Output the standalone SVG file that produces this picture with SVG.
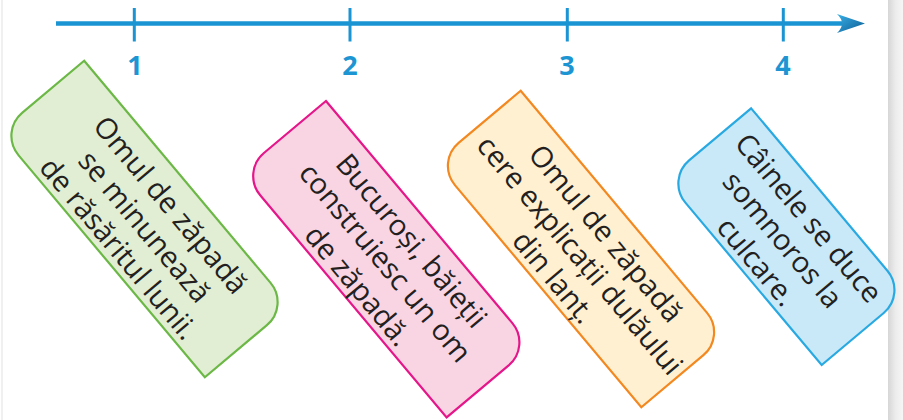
<svg xmlns="http://www.w3.org/2000/svg" width="903" height="420" viewBox="0 0 903 420">
<defs>
<linearGradient id="edge" x1="0" y1="0" x2="1" y2="0">
<stop offset="0" stop-color="#d6d6d6"/>
<stop offset="0.5" stop-color="#ececec"/>
<stop offset="1" stop-color="#f6f6f6"/>
</linearGradient>
<linearGradient id="head" x1="0" y1="0" x2="1" y2="1">
<stop offset="0" stop-color="#3ab0e6"/>
<stop offset="1" stop-color="#0a5a92"/>
</linearGradient>
<path id="long" d="M-160,-55.5 H130 A30,30 0 0 1 160,-25.5 V55.5 H-130 A30,30 0 0 1 -160,25.5 Z"/>
<path id="short" d="M-121,-55.5 H91 A30,30 0 0 1 121,-25.5 V55.5 H-91 A30,30 0 0 1 -121,25.5 Z"/>
</defs>
<style>
.axis{stroke:#1a94d2;stroke-width:4.5;fill:none}
.tick{stroke:#1a94d2;stroke-width:3}
.num{font-family:"Open Sans","Liberation Sans",sans-serif;font-weight:bold;font-size:27px;fill:#1d95d3;text-anchor:middle}
.txt{font-family:"Open Sans","Liberation Sans",sans-serif;font-size:29px;fill:#231f20;text-anchor:middle}
.card{stroke-width:2.2}
</style>
<rect width="903" height="420" fill="#ffffff"/>
<rect x="888" y="0" width="15" height="420" fill="url(#edge)"/>
<line x1="2" y1="0" x2="2" y2="420" stroke="#f0f0f0" stroke-width="2"/>

<g id="timeline">
<line class="axis" x1="56" y1="23.5" x2="846" y2="23.5"/>
<path d="M837,14 L865,23.5 L837,33 Q847,23.5 837,14 Z" fill="url(#head)"/>
<line class="tick" x1="134.3" y1="8" x2="134.3" y2="41.5"/>
<line class="tick" x1="350" y1="8" x2="350" y2="41.5"/>
<line class="tick" x1="567.3" y1="8" x2="567.3" y2="41.5"/>
<line class="tick" x1="783.3" y1="8" x2="783.3" y2="41.5"/>
<text class="num" x="135" y="75">1</text>
<text class="num" x="350" y="75">2</text>
<text class="num" x="567" y="75">3</text>
<text class="num" x="783" y="75">4</text>
</g>

<g id="card1" transform="translate(144.5,219) rotate(50)">
<use href="#long" class="card" fill="#e1eed4" stroke="#6cb846"/>
<text class="txt" x="6" y="-19">Omul de zăpadă</text>
<text class="txt" x="6" y="15">se minunează</text>
<text class="txt" x="6" y="49">de răsăritul lunii.</text>
</g>

<g id="card2" transform="translate(386.3,259.2) rotate(50)">
<use href="#long" class="card" fill="#f9d5e4" stroke="#e5168a"/>
<text class="txt" x="2" y="-21">Bucuroși, băieții</text>
<text class="txt" x="2" y="13">construiesc un om</text>
<text class="txt" x="2" y="49">de zăpadă.</text>
</g>

<g id="card3" transform="translate(581,249) rotate(50)">
<use href="#long" class="card" fill="#fff0d1" stroke="#f38820"/>
<text class="txt" x="4" y="-19">Omul de zăpadă</text>
<text class="txt" x="4" y="15">cere explicații dulăului</text>
<text class="txt" x="4" y="49">din lanț.</text>
</g>

<g id="card4" transform="translate(786.4,236.7) rotate(50)">
<use href="#short" class="card" fill="#c9e9f9" stroke="#29a9e1"/>
<text class="txt" x="0" y="-19">Câinele se duce</text>
<text class="txt" x="0" y="15">somnoros la</text>
<text class="txt" x="0" y="49">culcare.</text>
</g>
</svg>
